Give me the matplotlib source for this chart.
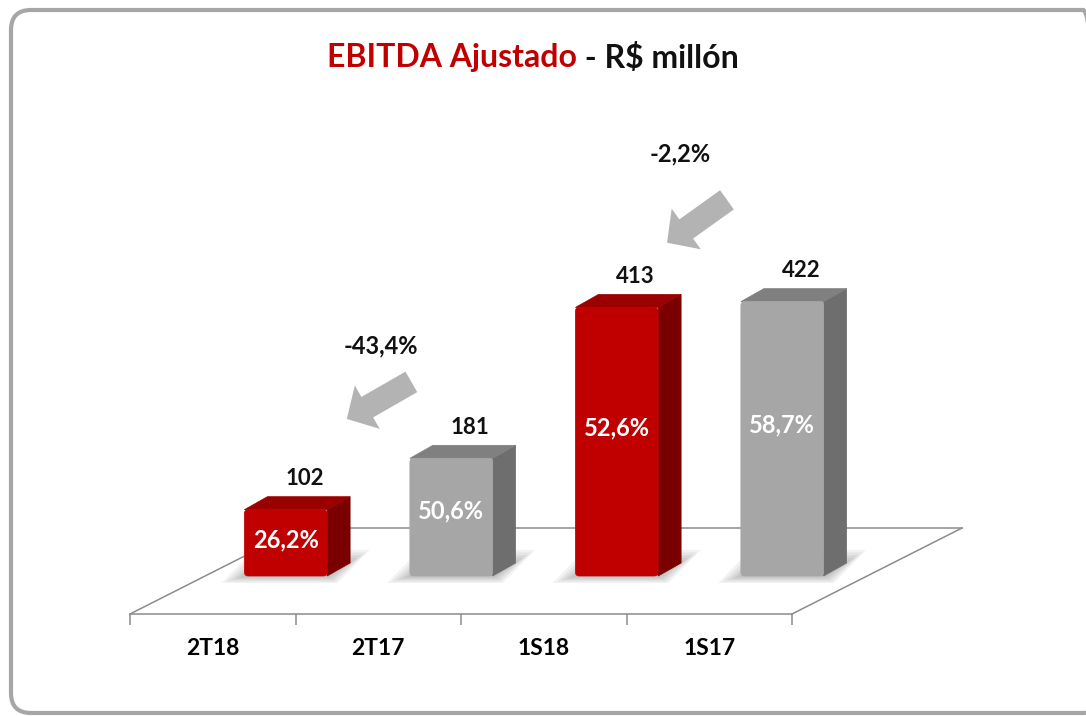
import matplotlib
matplotlib.use('Agg')
import matplotlib.pyplot as plt
import numpy as np
from matplotlib.patches import Polygon, FancyBboxPatch
from matplotlib.lines import Line2D
from matplotlib.transforms import IdentityTransform

# data
categories = ['2T18', '2T17', '1S18', '1S17']
ebitda = [102, 181, 413, 422]
margins = ['26,2%', '50,6%', '52,6%', '58,7%']
current = [True, False, True, False]   # red = current period, gray = prior year
changes = ['-43,4%', '-2,2%']

W, H = 1086, 716
plt.rcParams['font.family'] = ['Lato', 'DejaVu Sans']
fig = plt.figure(figsize=(W / 100, H / 100), dpi=100)

ax = fig.add_axes([130 / W, 1 - 614 / H, 662 / W, 554 / H])
ax.set_xlim(-0.5, 3.5)
ax.set_ylim(0, 852)
ax.patch.set_alpha(0)
for s in ['top', 'right', 'left']:
    ax.spines[s].set_visible(False)
ax.spines['bottom'].set_color('#8c8c8c')
ax.spines['bottom'].set_linewidth(1.1)
ax.set_yticks([])
ax.set_xticks(np.arange(-0.5, 4, 1))
ax.set_xticklabels([])
ax.set_xticks(range(len(categories)), minor=True)
ax.set_xticklabels(categories, minor=True, fontweight='bold', fontsize=16.5)
ax.tick_params(axis='x', which='major', direction='out', length=8,
               color='#8c8c8c', width=1.1)
ax.tick_params(axis='x', which='minor', length=0, pad=17)

ident = IdentityTransform()
bar_w = 0.5
floor_d = np.array([170, 86])   # floor depth, pixels
bar_off = np.array([73, 38])    # bar front relative to floor front
bar_d = np.array([23, 13])      # bar depth


def px(x, y):
    return ax.transData.transform((x, y))


# floor outline (front edge is the spine)
fl, fr = px(-0.5, 0), px(3.5, 0)
bl, br = fl + floor_d, fr + floor_d
for a, b in [(fl, bl), (bl, br), (br, fr)]:
    ax.add_line(Line2D([a[0], b[0]], [a[1], b[1]], transform=ident,
                       color='#8c8c8c', lw=1.1, clip_on=False, zorder=1))

red = ('#c00000', '#9b0000', '#7a0000')
gray = ('#a6a6a6', '#808080', '#6e6e6e')

for i, v in enumerate(ebitda):
    front, top, side = red if current[i] else gray
    x0, x1 = i - bar_w / 2, i + bar_w / 2
    p00 = px(x0, 0) + bar_off
    p10 = px(x1, 0) + bar_off
    p01 = px(x0, v) + bar_off
    p11 = px(x1, v) + bar_off

    # soft shadow on the floor
    foot = np.array([p00, p10, p10 + bar_d, p00 + bar_d])
    c = foot.mean(axis=0) + np.array([4, -2])
    for k in range(6):
        sc = 1.0 + 0.06 * k
        pts = c + (foot - c) * np.array([sc + 0.02 * k, sc + 0.25 * k])
        ax.add_patch(Polygon(pts, closed=True, transform=ident, clip_on=False,
                             facecolor='#000000', edgecolor='none',
                             alpha=0.05, zorder=2))

    ax.add_patch(Polygon([p10, p11, p11 + bar_d, p10 + bar_d], closed=True,
                         transform=ident, clip_on=False, facecolor=side,
                         edgecolor=side, lw=0.5, zorder=3))
    ax.add_patch(Polygon([p01, p11, p11 + bar_d, p01 + bar_d], closed=True,
                         transform=ident, clip_on=False, facecolor=top,
                         edgecolor=top, lw=0.5, zorder=3))
    ax.add_patch(FancyBboxPatch(p00, p10[0] - p00[0], p01[1] - p00[1],
                                boxstyle='round,pad=0,rounding_size=4',
                                transform=ident, clip_on=False,
                                facecolor=front, edgecolor=front, lw=0.5,
                                zorder=4))

    ax.annotate(str(v), xy=(i, v), xytext=(bar_off[0] + 19, bar_off[1] + 31),
                textcoords='offset pixels', ha='center', va='center',
                fontsize=16, fontweight='bold', color='#111111', zorder=6,
                annotation_clip=False)
    ax.annotate(margins[i], xy=(i, v * 0.55), xytext=(bar_off[0], bar_off[1]),
                textcoords='offset pixels', ha='center', va='center',
                fontsize=17, fontweight='bold', color='white', zorder=6,
                annotation_clip=False)

# change arrows
arrow_style = 'simple,head_length=1.7,head_width=3.6,tail_width=1.7'
ax.annotate('', xy=(0.81, 300), xytext=(1.2, 357),
            arrowprops=dict(arrowstyle=arrow_style, color='#b3b3b3',
                            mutation_scale=10, shrinkA=0, shrinkB=0, lw=0),
            annotation_clip=False)
ax.annotate('', xy=(2.745, 571), xytext=(3.107, 637),
            arrowprops=dict(arrowstyle=arrow_style, color='#b3b3b3',
                            mutation_scale=10, shrinkA=0, shrinkB=0, lw=0),
            annotation_clip=False)
ax.text(1.017, 412, changes[0], ha='center', va='center', fontsize=17,
        fontweight='bold', color='#111111')
ax.text(2.823, 708, changes[1], ha='center', va='center', fontsize=17,
        fontweight='bold', color='#111111')

# title in two colours
fig.text(577 / W, 1 - 58 / H, 'EBITDA Ajustado', ha='right', va='center',
         fontsize=23, fontweight='bold', color='#c00000')
fig.text(577 / W, 1 - 58 / H, ' - R$ millón', ha='left', va='center',
         fontsize=23, fontweight='bold', color='#111111')

# rounded frame (right side runs off the picture)
fig.add_artist(FancyBboxPatch((11, 3), 1092, 703,
                              boxstyle='round,pad=0,rounding_size=20',
                              transform=ident, facecolor='none',
                              edgecolor='#a6a6a6', lw=3, clip_on=False))

fig.savefig('out.png', dpi=100)
